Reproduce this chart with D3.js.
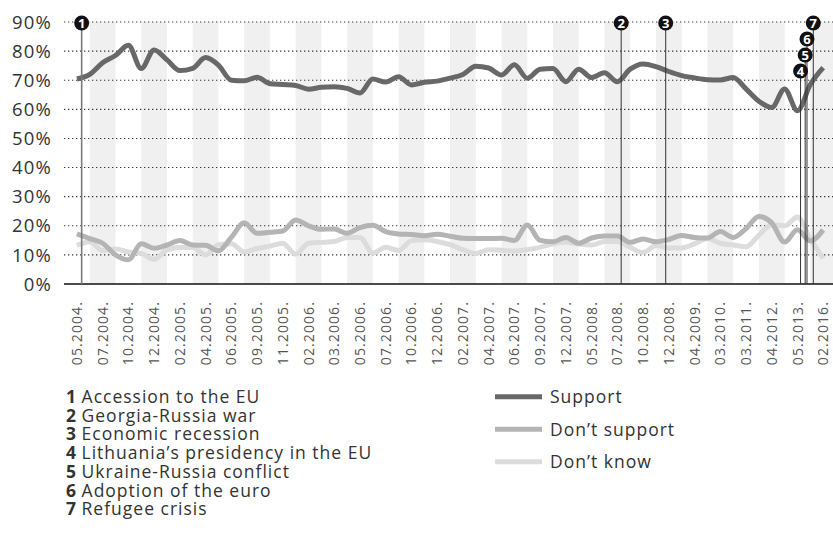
<!DOCTYPE html>
<html><head><meta charset="utf-8">
<script src="https://cdn.jsdelivr.net/npm/d3@7"></script>
<style>
html,body{margin:0;padding:0;background:#fff;}
svg{display:block;font-family:"Open Sans","Noto Sans",sans-serif;}
</style></head>
<body><svg id="chart" width="833" height="550"></svg>
<script>
const xLabels = ["05.2004.","07.2004.","10.2004.","12.2004.","02.2005.","04.2005.","06.2005.","09.2005.","11.2005.","02.2006.","03.2006.","05.2006.","07.2006.","10.2006.","12.2006.","02.2007.","04.2007.","06.2007.","09.2007.","12.2007.","05.2008.","07.2008.","10.2008.","12.2008.","04.2009.","03.2010.","03.2011.","04.2012.","05.2013.","02.2016."];
const yTicks = [0,10,20,30,40,50,60,70,80,90];

const support = [70.4,72,76,78.5,82,74,80.4,77,73.3,74.1,77.8,75.2,70,69.8,71,68.8,68.5,68.2,66.9,67.6,67.8,67.2,65.6,70.4,69.4,71.2,68.4,69.3,69.7,70.7,72,74.8,74.2,71.8,75.3,70.7,73.8,74,69.5,73.8,70.9,72.6,69.5,73.8,75.6,74.7,73,71.6,70.8,70.2,70.1,70.9,67,62.8,60.6,67,59.5,68.5,74.3];
const dontSupport = [17.2,15.6,14,10,8.3,13.8,12.3,13.4,14.9,13.4,13.3,11.4,16,21,17.4,17.8,18.2,22,20,18.8,18.9,17.4,19.4,20.2,18,17.2,17,16.6,17.1,16.4,15.7,15.6,15.6,15.7,14.9,20.3,15,14.5,16,14,15.8,16.5,16.5,14.3,15.5,14.5,15.3,16.7,16,15.8,18,16,19,23.2,21,14.4,18.6,14.8,18.6];
const dontKnow = [13.2,14.5,11.5,12,11,10.5,8.5,11.7,12.5,12.5,10,13.5,13.8,11,12.2,13,14,10.2,14,14.3,14.6,16,16,10.6,12.6,11.5,14.9,15.2,14.6,13.5,11.8,10.5,11.8,11.6,11.3,11.8,12.6,13.8,14.3,13.7,13.4,14.6,14.6,12.6,10.8,13.2,12.4,12.4,13.8,15.6,14,13.4,12.8,16.8,20.3,20,23,15.5,8.8];

const seriesNames = ["Don\u2019t know","Don\u2019t support","Support"];
const seriesColors = ["#dcdcdc","#b4b4b4","#686868"];
const seriesValues = [dontKnow, dontSupport, support];

const eventNums = [1,2,3,4,5,6,7];
const eventNames = ["Accession to the EU","Georgia-Russia war","Economic recession","Lithuania\u2019s presidency in the EU","Ukraine-Russia conflict","Adoption of the euro","Refugee crisis"];
const eventPos = [0.37,42.3,45.76,56.24,56.6,56.74,57.23];   // in survey index units
const eventRow = [0,0,0,3,2,1,0];

const svg = d3.select("#chart");
const nPts = support.length;
const x = d3.scaleLinear().domain([0, nPts-1]).range([76.9, 823.2]);
const y = d3.scaleLinear().domain([0, 90]).range([284, 22]);
const left = x(-1), right = 833;

// bands
const bandIdx = d3.range(1, xLabels.length, 2);
svg.append("g").selectAll("rect").data(bandIdx).join("rect")
  .attr("x", j => x(2*j-1)).attr("width", j => x(2*j+1)-x(2*j-1))
  .attr("y", y(90)).attr("height", y(0)-y(90)).attr("fill", "#f0f0f0");

// grid
svg.append("g").selectAll("line").data(yTicks.filter(d=>d>0)).join("line")
  .attr("x1", left).attr("x2", right).attr("y1", d=>y(d)).attr("y2", d=>y(d))
  .attr("stroke", "#333").attr("stroke-width", 1.1).attr("stroke-dasharray", "1.3,2.7");

// y labels
svg.append("g").selectAll("text").data(yTicks).join("text")
  .attr("x", 52).attr("y", d=>y(d)).attr("dy", "0.36em").attr("text-anchor","end")
  .attr("font-size", 18.5).attr("letter-spacing", 1.2).attr("fill", "#333").text(d=>d+"%");

// x labels
svg.append("g").selectAll("text").data(xLabels).join("text")
  .attr("transform", (d,i)=>`translate(${x(2*i)},301) rotate(-90)`)
  .attr("dy","0.36em").attr("text-anchor","end").attr("font-size", 14)
  .attr("letter-spacing", 1.1).attr("fill","#555").text(d=>d);

// series
const line = d3.line().x((d,i)=>x(i)).y(d=>y(d)).curve(d3.curveMonotoneX);
svg.append("g").selectAll("path").data(seriesValues).join("path")
  .attr("d", d=>line(d)).attr("fill","none")
  .attr("stroke", (d,i)=>seriesColors[i]).attr("stroke-width", 5)
  .attr("stroke-linejoin","round");

// baseline
svg.append("line").attr("x1", left).attr("x2", right).attr("y1", y(0)).attr("y2", y(0))
  .attr("stroke","#111").attr("stroke-width",1.5);

// events
const rowY = r => y(90) + 1 + r*16;
const ev = svg.append("g");
ev.selectAll("line").data(eventNums).join("line")
  .attr("x1",(d,i)=>x(eventPos[i])).attr("x2",(d,i)=>x(eventPos[i]))
  .attr("y1",(d,i)=>rowY(eventRow[i])).attr("y2", y(0))
  .attr("stroke",(d,i)=> i===0 ? "#7a7a7a" : "#333")
  .attr("stroke-width",(d,i)=> i===0 ? 1.6 : 1);
const badges = ev.selectAll("g").data(eventNums).join("g")
  .attr("transform",(d,i)=>`translate(${x(eventPos[i])},${rowY(eventRow[i])})`);
badges.append("circle").attr("r",7.5).attr("fill","#111");
badges.append("text").attr("text-anchor","middle").attr("dy","0.36em")
  .attr("font-size",13).attr("font-weight","bold").attr("fill","#fff").text(d=>d);

// event legend
const el = svg.append("g").attr("transform","translate(66,402.7)");
const rows = el.selectAll("text").data(eventNums).join("text")
  .attr("y",(d,i)=>i*18.8).attr("font-size",17.5).attr("letter-spacing",1).attr("fill","#333");
rows.append("tspan").attr("font-weight","bold").attr("letter-spacing",0).text(d=>d);
rows.append("tspan").text((d,i)=>" "+eventNames[i]);

// series legend
const legendOrder = [2,1,0];
const sl = svg.append("g").attr("transform","translate(495,396.7)");
const li = sl.selectAll("g").data(legendOrder).join("g")
  .attr("transform",(d,i)=>`translate(0,${i*32.5})`);
li.append("line").attr("x1",0).attr("x2",47).attr("stroke",d=>seriesColors[d]).attr("stroke-width",5);
li.append("text").attr("x",55).attr("dy","0.36em").attr("font-size",17.5).attr("letter-spacing",1)
  .attr("fill","#333").text(d=>seriesNames[d]);
</script></body></html>
